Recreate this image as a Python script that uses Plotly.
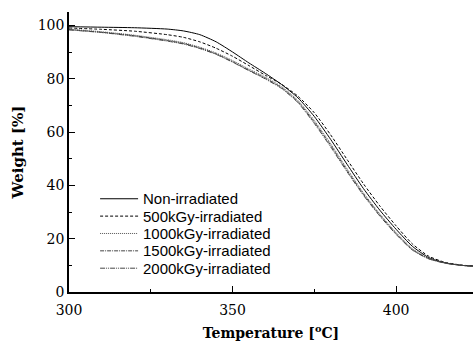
import plotly.graph_objects as go

# Temperature grid (°C) and weight-loss curves (%) for each sample
temperature = [300, 310, 320, 330, 335, 340, 345, 350, 355, 360, 365, 370,
               375, 380, 385, 390, 395, 400, 405, 410, 415, 420, 424]

w_non = [99.5, 99.3, 99.1, 98.6, 97.9, 96.5, 93.8, 90.0, 85.9, 82.0, 77.8, 72.8,
         65.8, 57.2, 47.9, 38.8, 30.7, 23.5, 17.1, 12.9, 10.9, 10.0, 9.7]
w_500 = [99.0, 98.5, 97.8, 96.5, 95.5, 93.8, 91.4, 88.4, 84.9, 81.3, 77.9, 73.4,
         67.2, 58.9, 49.7, 40.6, 32.3, 24.8, 18.0, 13.4, 11.1, 10.1, 9.7]
w_1000 = [98.6, 97.6, 96.3, 94.6, 93.5, 91.8, 89.6, 86.8, 83.6, 80.6, 77.0, 71.8,
          64.3, 55.6, 46.2, 37.2, 29.3, 22.3, 16.2, 12.6, 10.9, 10.0, 9.6]
w_1500 = [98.4, 97.4, 96.1, 94.3, 93.2, 91.5, 89.3, 86.4, 83.2, 80.2, 76.6, 71.4,
          63.7, 55.0, 45.6, 36.7, 28.9, 21.9, 15.9, 12.5, 10.9, 10.0, 9.6]
w_2000 = [98.3, 97.3, 95.9, 94.1, 93.0, 91.3, 89.1, 86.2, 83.0, 79.9, 76.3, 71.0,
          63.2, 54.4, 45.1, 36.3, 28.5, 21.6, 15.7, 12.4, 10.8, 10.0, 9.6]

labels = ["Non-irradiated", "500kGy-irradiated", "1000kGy-irradiated",
          "1500kGy-irradiated", "2000kGy-irradiated"]
series = [w_non, w_500, w_1000, w_1500, w_2000]
styles = [("#000000", "solid"),
          ("#000000", "3px,2px"),
          ("#555555", "1px,1px"),
          ("#444444", "4px,1px,1px,1px"),
          ("#444444", "5px,1px,1px,1px,1px,1px")]

fig = go.Figure()
for name, ys, (col, dash) in zip(labels, series, styles):
    fig.add_trace(go.Scatter(
        x=temperature, y=ys, mode="lines", name=name, showlegend=False,
        line=dict(color=col, width=1, dash=dash, shape="spline", smoothing=0.6),
    ))

# Compact legend: line samples as shapes, names as annotations (paper coords)
legend_x0, legend_x1, text_x = 0.077, 0.171, 0.179
legend_top, legend_step = 0.333, 0.062
for i, (name, (col, dash)) in enumerate(zip(labels, styles)):
    yy = legend_top - i * legend_step
    fig.add_shape(type="line", xref="paper", yref="paper",
                  x0=legend_x0, x1=legend_x1, y0=yy, y1=yy,
                  line=dict(color=col, width=1, dash=dash))
    fig.add_annotation(xref="paper", yref="paper", x=text_x, y=yy,
                       xanchor="left", yanchor="middle", showarrow=False,
                       text=name,
                       font=dict(family="Liberation Sans", size=15, color="black"))

serif = "DejaVu Serif"
fig.update_layout(
    width=473, height=345,
    margin=dict(l=69, r=0, t=12, b=53),
    plot_bgcolor="white", paper_bgcolor="white",
    showlegend=False,
)
fig.update_xaxes(
    range=[300, 423.5],
    tickvals=[300, 350, 400],
    showline=True, linecolor="black", linewidth=1.5,
    ticks="inside", ticklen=6, tickwidth=1, tickcolor="black",
    minor=dict(ticks="inside", ticklen=3, tickwidth=1, tickcolor="black",
               tickvals=[325, 375]),
    showgrid=False, zeroline=False,
    ticklabelstandoff=4,
    tickfont=dict(family=serif, size=14, color="black"),
    title=dict(text="<b>Temperature [<sup>o</sup>C]</b>",
               font=dict(family=serif, size=14, color="black"), standoff=12),
)
fig.update_yaxes(
    range=[0, 105],
    tickvals=[0, 20, 40, 60, 80, 100],
    showline=True, linecolor="black", linewidth=1.5,
    ticks="inside", ticklen=6, tickwidth=1, tickcolor="black",
    minor=dict(ticks="inside", ticklen=3, tickwidth=1, tickcolor="black",
               tickvals=[10, 30, 50, 70, 90]),
    showgrid=False, zeroline=False,
    tickfont=dict(family=serif, size=14, color="black"),
    title=dict(text="<b>Weight [%]</b>",
               font=dict(family=serif, size=15, color="black"), standoff=10),
)

fig.write_html("out.html")
